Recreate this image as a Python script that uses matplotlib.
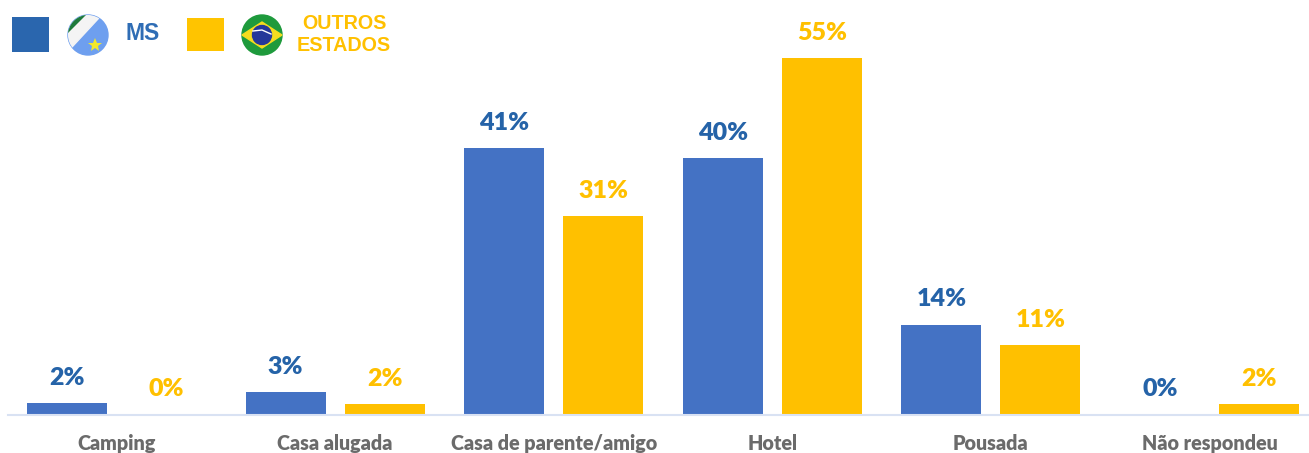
import matplotlib
matplotlib.use('Agg')
import matplotlib.pyplot as plt
from matplotlib.patches import Circle, Polygon, Rectangle
import numpy as np

# Data
categories = ['Camping', 'Casa alugada', 'Casa de parente/amigo', 'Hotel', 'Pousada', 'Não respondeu']
ms_values = [1.7, 3.4, 41, 39.4, 13.8, 0]
outros_values = [0, 1.6, 30.6, 54.85, 10.7, 1.6]
ms_labels = ['2%', '3%', '41%', '40%', '14%', '0%']
outros_labels = ['0%', '2%', '31%', '55%', '11%', '2%']

BLUE = '#4472C4'
YELLOW = '#FFC000'
LABEL_BLUE = '#2563A8'
GREY = '#6B6B6B'

W, H = 1309, 453
plt.rcParams['font.family'] = ['Lato', 'DejaVu Sans']

fig = plt.figure(figsize=(W / 100, H / 100), dpi=100)
ax = fig.add_axes([8 / W, 38.5 / H, (W - 8) / W, 414.5 / H])

x = np.arange(len(categories))
width = 80 / 218.6
offset = 49.5 / 218.6
ax.bar(x - offset, ms_values, width, color=BLUE)
ax.bar(x + offset, outros_values, width, color=YELLOW)

# Value labels
for i in x:
    ax.annotate(ms_labels[i], (i - offset, ms_values[i]), xytext=(0, 14.5), textcoords='offset pixels',
                ha='center', va='bottom', color=LABEL_BLUE, fontsize=18, fontweight='heavy')
    ax.annotate(outros_labels[i], (i + offset, outros_values[i]), xytext=(0, 14), textcoords='offset pixels',
                ha='center', va='bottom', color=YELLOW, fontsize=18, fontweight='heavy')

ax.set_xlim((8 - 116.5) / 218.6, (W - 116.5) / 218.6)
ax.set_ylim(0, 414.5 / 6.5)
ax.set_yticks([])
ax.set_xticks(x, categories, fontsize=14.2, fontweight='heavy', color=GREY)
ax.tick_params(axis='x', length=0, pad=14.1)
for name in ['top', 'left', 'right']:
    ax.spines[name].set_visible(False)
ax.spines['bottom'].set_color('#D9E2F3')
ax.spines['bottom'].set_linewidth(1.5)
ax.patch.set_alpha(0)

# Legend drawn by hand, in pixel coordinates
lg = fig.add_axes([0, 0, 1, 1])
lg.set_xlim(0, W)
lg.set_ylim(H, 0)
lg.axis('off')
lg.patch.set_alpha(0)
lg.add_patch(Rectangle((12, 17), 37, 35, color='#2A66AE', linewidth=0))
lg.add_patch(Rectangle((187, 18), 37, 33, color='#FFC400', linewidth=0))

# MS flag
ms_disc = Circle((88, 35), 20, color='#6E9FEF', zorder=2)
lg.add_patch(ms_disc)
white = Polygon([(60, 60), (110, 6), (60, 6)], color='#F4F4F4', zorder=3)
lg.add_patch(white)
white.set_clip_path(ms_disc)
green = Polygon([(60, 40), (94, 6), (60, 6)], color='#1E7A3C', zorder=4)
lg.add_patch(green)
green.set_clip_path(ms_disc)
lg.plot([94.5], [44.5], marker='*', color='#F2E82A', markersize=10, markeredgewidth=0, zorder=5)

# Brazil flag
lg.add_patch(Circle((262, 35), 20, color='#1E9A3C', zorder=2))
lg.add_patch(Polygon([(242, 35), (262, 22), (282, 35), (262, 48)], color='#F5DC1E', zorder=3))
lg.add_patch(Circle((262, 35), 9.5, color='#24389A', zorder=4))
lg.plot([253, 262, 271], [31, 30, 34], color='white', linewidth=1, zorder=5)

lg.text(142.5, 34, 'MS', family='Liberation Sans', fontweight='bold', fontsize=16.5, color='#2F6DB5',
        ha='center', va='center')
lg.text(344, 23.5, 'OUTROS', family='Liberation Sans', fontweight='bold', fontsize=14.2, color=YELLOW,
        ha='center', va='center')
lg.text(343.5, 45.5, 'ESTADOS', family='Liberation Sans', fontweight='bold', fontsize=14.2, color=YELLOW,
        ha='center', va='center')

fig.savefig('out.png', dpi=100)
